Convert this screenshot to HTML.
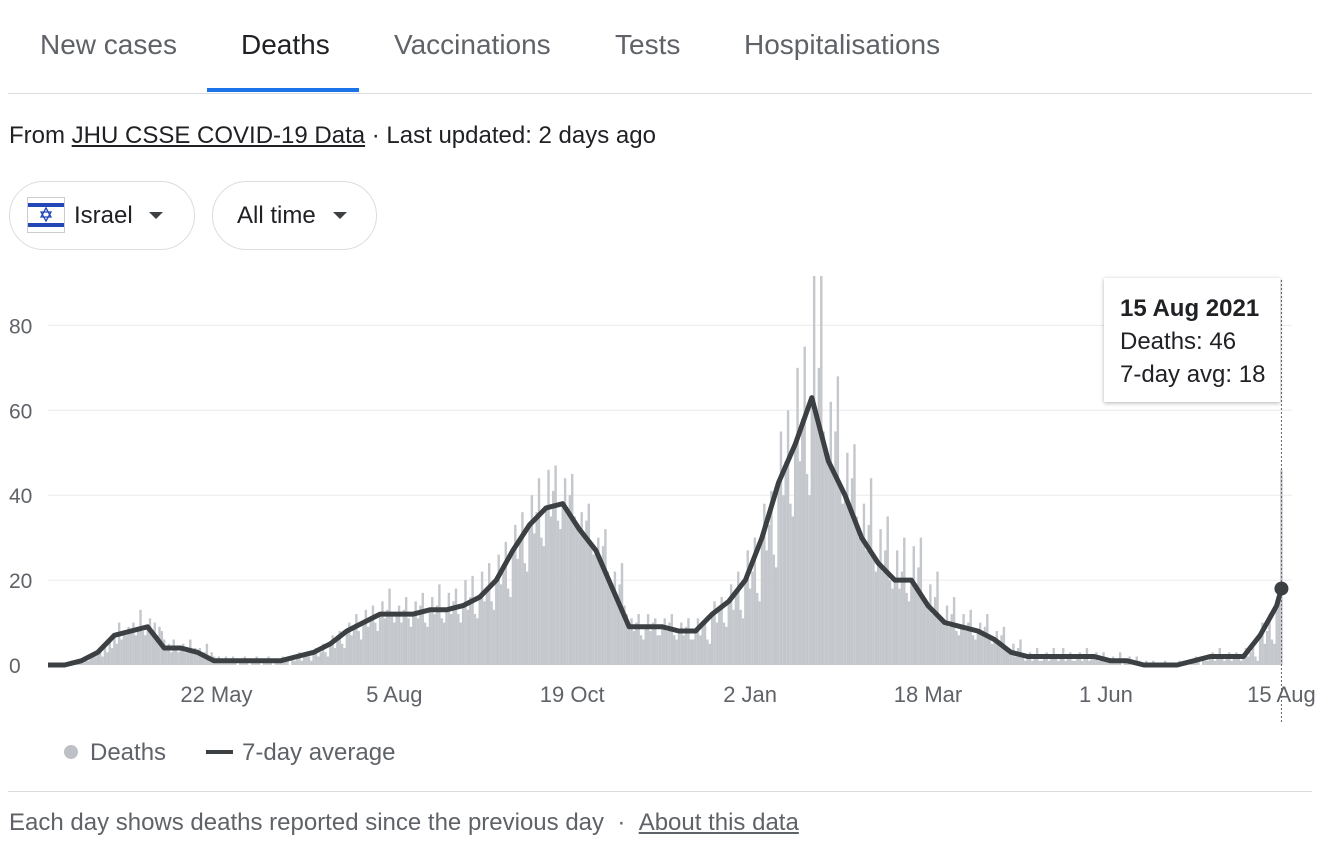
<!DOCTYPE html>
<html><head><meta charset="utf-8">
<style>
body{margin:0;width:1328px;height:856px;background:#fff;font-family:"Liberation Sans",Arial,sans-serif;position:relative;overflow:hidden}
.a{position:absolute;white-space:nowrap}
.tab{font-size:28px;color:#5f6368;top:29px}
.pill{position:absolute;top:181px;height:69px;border:1.5px solid #dadce0;border-radius:35px;box-sizing:border-box;font-size:24px;color:#202124}
.caret{display:inline-block;width:0;height:0;border-left:7px solid transparent;border-right:7px solid transparent;border-top:7px solid #3c4043}
</style></head><body>
<div class="a tab" style="left:40px">New cases</div>
<div class="a tab" style="left:241px;color:#202124">Deaths</div>
<div class="a tab" style="left:394px">Vaccinations</div>
<div class="a tab" style="left:615px">Tests</div>
<div class="a tab" style="left:744px">Hospitalisations</div>
<div class="a" style="left:207px;top:88px;width:152px;height:4px;background:#1a73e8"></div>
<div class="a" style="left:8px;top:93px;width:1304px;height:1px;background:#dadce0"></div>
<div class="a" style="left:9px;top:122px;font-size:24px;color:#202124">From <span style="text-decoration:underline">JHU CSSE COVID-19 Data</span> · Last updated: 2 days ago</div>
<div class="pill" style="left:9px;width:186px">
<svg class="a" style="left:17px;top:15px" width="38" height="36"><rect x="0.5" y="0.5" width="37" height="35" fill="#fff" stroke="#ccc"/><rect x="1" y="6" width="36" height="4" fill="#2447b8"/><rect x="1" y="26" width="36" height="4" fill="#2447b8"/><polygon points="19,11 24,20 14,20" fill="none" stroke="#2447b8" stroke-width="1.3"/><polygon points="19,24 24,15 14,15" fill="none" stroke="#2447b8" stroke-width="1.3"/></svg>
<span class="a" style="left:64px;top:20px">Israel</span><span class="a caret" style="left:139px;top:30px"></span></div>
<div class="pill" style="left:212px;width:165px"><span class="a" style="left:24px;top:20px">All time</span><span class="a caret" style="left:120px;top:30px"></span></div>

<svg class="a" style="left:0;top:0" width="1328" height="856" id="chart"></svg>

<div class="a" style="left:64px;top:745px;width:14px;height:14px;border-radius:7px;background:#bdc1c6"></div>
<div class="a" style="left:90px;top:739px;font-size:24px;color:#5f6368">Deaths</div>
<div class="a" style="left:206px;top:750px;width:27px;height:4px;background:#3c4043"></div>
<div class="a" style="left:242px;top:739px;font-size:24px;color:#5f6368">7-day average</div>
<div class="a" style="left:8px;top:791px;width:1304px;height:1px;background:#dadce0"></div>
<div class="a" style="left:9px;top:809px;font-size:24px;color:#5f6368">Each day shows deaths reported since the previous day &nbsp;· &nbsp;<span style="text-decoration:underline">About this data</span></div>

<div class="a" style="left:1104px;top:278px;width:176px;height:124px;background:#fff;box-shadow:0 1px 4px rgba(0,0,0,0.3);font-size:24px;color:#202124;line-height:33px;padding:14px 16px;box-sizing:border-box"><b>15 Aug 2021</b><br>Deaths: 46<br>7-day avg: 18</div>

<script>
const deaths=[0,0,0,0,0,0,0, 0,0,0,1,0,1,1, 1,1,2,1,2,3,2, 3,4,2,5,3,6,4, 7,5,10,6,8,7,9, 8,10,7,9,13,8,7, 9,11,8,10,7,9,8, 6,4,5,3,6,4,3, 4,5,3,4,6,3,4, 3,4,2,3,5,2,3, 2,1,2,1,1,2,1, 1,2,1,0,1,1,2, 1,0,1,1,2,1,0, 1,1,2,1,0,1,1, 1,2,1,1,0,2,1, 2,3,1,2,3,2,1, 3,4,2,3,5,3,2, 5,7,4,6,8,5,4, 8,10,7,9,12,8,6, 10,13,9,11,14,10,8, 12,15,11,13,18,12,10, 12,14,10,13,16,11,9, 12,15,11,14,17,10,9, 13,16,12,14,19,11,10, 13,17,12,15,18,12,10, 14,20,13,16,21,12,11, 16,22,15,18,24,15,13, 20,26,19,22,29,18,16, 27,33,25,30,36,24,22, 33,40,31,36,44,30,28, 37,46,35,41,47,34,32, 38,44,36,40,45,35,33, 32,36,30,34,38,28,26, 27,30,24,28,32,22,20, 18,22,15,19,24,14,12, 9,11,8,10,12,7,6, 9,12,8,10,11,7,7, 9,11,8,10,12,7,6, 8,10,7,9,11,6,6, 8,11,7,9,10,6,5, 12,15,10,13,16,10,9, 15,19,13,17,22,13,11, 20,27,18,22,30,17,15, 30,38,27,33,41,26,23, 43,55,40,48,60,38,35, 52,70,48,58,75,45,40, 63,92,58,70,92,55,50, 48,62,45,55,68,42,38, 40,50,37,44,52,35,30, 30,38,27,33,44,26,22, 24,32,22,27,35,20,18, 20,27,18,22,30,17,15, 20,28,18,23,30,16,14, 14,19,12,16,22,11,10, 10,14,9,12,16,8,7, 9,12,8,10,13,7,6, 8,10,7,9,12,6,5, 6,8,5,7,9,4,3, 3,5,2,4,6,2,1, 2,3,1,2,4,1,1, 2,3,1,2,4,2,1, 2,4,1,2,3,1,1, 2,3,1,2,4,1,2, 2,3,1,2,3,1,1, 1,2,1,1,3,0,1, 1,2,0,1,2,1,0, 0,1,0,0,1,0,0, 0,0,1,0,0,0,0, 0,1,0,0,0,0,1, 1,2,1,0,2,1,1, 2,3,1,2,4,2,1, 2,3,1,2,3,2,1, 2,4,2,3,5,2,1, 7,10,5,8,12,6,5, 15,17,46];
const avgWeekly=[0,0,1,3,7,8,9,4,4,3,1,1,1,1,1,2,3,5,8,10,12,12,12,13,13,14,16,20,27,33,37,38,32,27,18,9,9,9,8,8,12,15,20,30,43,52,63,48,40,30,24,20,20,14,10,9,8,6,3,2,2,2,2,2,1,1,0,0,0,1,2,2,2,7,14,18];
const yTicks=[0,20,40,60,80];
const xTickLabels=["22 May","5 Aug","19 Oct","2 Jan","18 Mar","1 Jun","15 Aug"];
const xTickDays=[71,146,221,296,371,446,520];
const NS="http://www.w3.org/2000/svg",svg=document.getElementById('chart');
const x0=48,pxDay=2.372,y0=665,pxUnit=4.245,yTop=276;
const X=d=>x0+d*pxDay, Y=v=>Math.max(yTop,y0-v*pxUnit);
function mk(t,a){const e=document.createElementNS(NS,t);for(const k in a)e.setAttribute(k,a[k]);svg.appendChild(e);return e;}
yTicks.forEach(v=>{
 if(v>0){const g=mk('line',{x1:x0,x2:1292,y1:Y(v),y2:Y(v),stroke:'#ebebeb','stroke-width':1});
 
 }
 const t=mk('text',{x:9,y:Y(v)+8,'font-size':21,fill:'#5f6368'});t.textContent=v;
 
 
});
xTickLabels.forEach((s,i)=>{
 const t=mk('text',{x:X(xTickDays[i]),y:702,'font-size':22,fill:'#5f6368','text-anchor':'middle'});t.textContent=s;
 
 
});
deaths.forEach((v,i)=>{
 if(v<=0)return;
 const r=mk('rect',{x:X(i)-1.2,y:Y(v),width:2.4,height:y0-Y(v),fill:'#c4c7cb'});
 
 
});
const pts=avgWeekly.map((v,i)=>X(Math.min(i*7,deaths.length-1)).toFixed(1)+','+Y(v).toFixed(1)).join(' ');
const ln=mk('polyline',{points:pts,fill:'none',stroke:'#3c4043','stroke-width':5,'stroke-linejoin':'round'});


const xe=X(deaths.length-1);
const vl=mk('line',{x1:xe,x2:xe,y1:280,y2:722,stroke:'#5f6368','stroke-width':1,'stroke-dasharray':'2,2'});


const dot=mk('circle',{cx:xe,cy:Y(avgWeekly[avgWeekly.length-1]),r:7,fill:'#3c4043'});


</script>
</body></html>
